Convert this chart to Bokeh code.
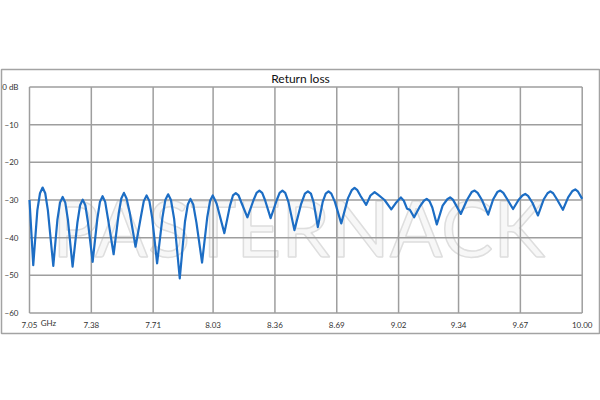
from bokeh.plotting import figure
from bokeh.models import Range1d, FixedTicker, NumeralTickFormatter, Label
from bokeh.embed import file_html
from bokeh.resources import INLINE

# ---------------- data ----------------
freq_ghz = [
    7.050, 7.070, 7.092, 7.106, 7.120, 7.134, 7.148, 7.177, 7.199, 7.213,
    7.227, 7.241, 7.255, 7.280, 7.306, 7.320, 7.334, 7.348, 7.362, 7.387,
    7.412, 7.426, 7.440, 7.454, 7.469, 7.499, 7.526, 7.540, 7.554, 7.568,
    7.586, 7.616, 7.645, 7.660, 7.675, 7.690, 7.705, 7.731, 7.760, 7.775,
    7.790, 7.805, 7.822, 7.852, 7.880, 7.895, 7.909, 7.924, 7.941, 7.971,
    7.999, 8.014, 8.028, 8.040, 8.049, 8.090,
    8.120, 8.136, 8.151, 8.166, 8.182, 8.213,
    8.246, 8.262, 8.277, 8.292, 8.307, 8.337,
    8.370, 8.385, 8.400, 8.415, 8.432, 8.464,
    8.500, 8.520, 8.536, 8.552, 8.566, 8.589,
    8.615, 8.631, 8.646, 8.661, 8.680, 8.714,
    8.750, 8.770, 8.785, 8.800, 8.818, 8.847,
    8.870, 8.892, 8.910, 8.945, 8.981,
    9.005, 9.032, 9.048, 9.065, 9.080, 9.103,
    9.135, 9.155, 9.170, 9.185, 9.200, 9.224,
    9.255, 9.280, 9.295, 9.310, 9.328, 9.352,
    9.385, 9.410, 9.426, 9.442, 9.465, 9.498,
    9.525, 9.547, 9.563, 9.579, 9.600, 9.631,
    9.660, 9.681, 9.696, 9.711, 9.735, 9.764,
    9.795, 9.815, 9.830, 9.845, 9.865, 9.897,
    9.925, 9.948, 9.963, 9.978, 10.000,
]
return_loss_db = [
    -30.0, -47.3, -32.7, -28.2, -26.7, -28.2, -32.7, -47.5, -35.2, -30.7,
    -29.2, -30.7, -35.2, -47.7, -35.9, -31.4, -29.9, -31.4, -35.9, -46.4,
    -35.0, -30.5, -29.0, -30.5, -35.0, -44.4, -33.6, -29.6, -28.1, -29.6,
    -33.6, -42.4, -34.3, -30.3, -28.8, -30.3, -34.8, -46.8, -34.5, -30.0,
    -28.5, -30.0, -35.0, -50.8, -35.7, -31.2, -29.7, -31.2, -36.0, -46.6,
    -34.5, -30.2, -28.8, -30.0, -31.0, -38.8,
    -31.5, -28.8, -28.2, -28.8, -30.8, -34.6,
    -30.0, -28.1, -27.5, -28.1, -30.0, -34.8,
    -30.0, -28.1, -27.5, -28.1, -30.5, -38.0,
    -31.0, -28.3, -27.7, -28.3, -30.5, -37.2,
    -30.5, -28.3, -27.7, -28.3, -30.5, -36.2,
    -29.5, -27.4, -26.8, -27.4, -29.0, -31.3,
    -28.8, -27.9, -28.6, -30.0, -32.5,
    -30.8, -29.3, -30.2, -32.3, -32.6, -34.6,
    -31.6, -30.2, -29.7, -30.3, -32.0, -36.5,
    -31.5, -29.8, -29.3, -29.9, -31.5, -33.7,
    -30.0, -27.9, -27.5, -28.1, -30.0, -33.9,
    -29.8, -27.9, -27.5, -28.1, -29.8, -32.4,
    -30.0, -28.8, -28.4, -28.9, -30.8, -34.1,
    -29.8, -28.2, -27.7, -28.2, -29.8, -32.6,
    -29.3, -27.6, -27.2, -27.8, -29.7,
]
x_ticks = [7.05, 7.38, 7.71, 8.03, 8.36, 8.69, 9.02, 9.34, 9.67, 10.00]
y_ticks = [-60, -50, -40, -30, -20, -10, 0]
y_tick_labels = {0: "0 dB"}
title_text = "Return loss"
unit_text = "GHz"
watermark_text = "PASTERNACK"

# ---------------- geometry (page pixels) ----------------
FIG_W, FIG_H = 600, 400
PAGE_X0, PAGE_Y0 = 0, 0          # figure origin on the page
BOX_L, BOX_R, BOX_T, BOX_B = 1, 599, 69, 333
IN_L, IN_R, IN_T, IN_B = 29.0, 581.7, 86.5, 312.5

gpp = (x_ticks[-1] - x_ticks[0]) / (IN_R - IN_L)
dpp = (y_ticks[-1] - y_ticks[0]) / (IN_B - IN_T)
x_start = x_ticks[0] - (IN_L - BOX_L) * gpp
x_end = x_ticks[-1] + (BOX_R - IN_R) * gpp
y_end = y_ticks[-1] + (IN_T - BOX_T) * dpp
y_start = y_ticks[0] - (BOX_B - IN_B) * dpp


def px_x(px):
    return x_ticks[0] + (px - IN_L) * gpp


def px_y(py):
    return y_ticks[-1] - (py - IN_T) * dpp


p = figure(
    width=FIG_W, height=FIG_H,
    x_range=Range1d(x_start, x_end), y_range=Range1d(y_start, y_end),
    output_backend="svg", toolbar_location=None,
    min_border_left=BOX_L - PAGE_X0, min_border_right=FIG_W - (BOX_R - PAGE_X0),
    min_border_top=BOX_T - PAGE_Y0, min_border_bottom=FIG_H - (BOX_B - PAGE_Y0),
)
p.background_fill_color = "white"
p.border_fill_color = "white"
p.outline_line_color = "#a3a3a3"
p.outline_line_width = 1.5
p.xgrid.visible = False
p.ygrid.visible = False

# watermark
wm = Label(x=px_x(298), y=px_y(226), text=watermark_text,
           text_font="Lato", text_font_size="78px", text_align="center",
           text_baseline="alphabetic", text_color="#f7f7f7",
           text_outline_color="#dedede", level="underlay")
p.add_layout(wm)

# grid lines drawn from the tick arrays
grid_col = "#9e9e9e"
p.segment(x0=x_ticks, y0=[y_ticks[0]] * len(x_ticks), x1=x_ticks,
          y1=[y_ticks[-1]] * len(x_ticks), line_color=grid_col, line_width=1.5)
p.segment(x0=[x_ticks[0]] * len(y_ticks), y0=y_ticks,
          x1=[x_ticks[-1]] * len(y_ticks), y1=y_ticks,
          line_color=grid_col, line_width=1.5)

# curve
p.line(freq_ghz, return_loss_db, line_color="#1c6dc4", line_width=2.2,
       line_join="round")

# axes placed inside the box
for ax in (p.xaxis[0], p.yaxis[0]):
    ax.axis_line_color = None
    ax.major_tick_line_color = None
    ax.minor_tick_line_color = None
    ax.major_label_text_font = "Lato"
    ax.major_label_text_font_size = "8px"
    ax.major_label_text_color = "#333333"

xa = p.xaxis[0]
xa.fixed_location = y_ticks[0]
xa.ticker = FixedTicker(ticks=x_ticks)
xa.formatter = NumeralTickFormatter(format="0.00")
xa.major_label_standoff = 3

ya = p.yaxis[0]
ya.fixed_location = x_ticks[0]
ya.ticker = FixedTicker(ticks=y_ticks)
ya.major_label_overrides = y_tick_labels
ya.major_label_standoff = 5

p.add_layout(Label(x=px_x(300), y=px_y(78), text=title_text, text_font="Lato",
                   text_font_size="12px", text_align="center",
                   text_baseline="middle", text_color="#111111"))
p.add_layout(Label(x=px_x(48), y=px_y(322.5), text=unit_text, text_font="Lato",
                   text_font_size="8px", text_align="center",
                   text_baseline="middle", text_color="#333333"))

open("out.html", "w").write(file_html(p, INLINE))
